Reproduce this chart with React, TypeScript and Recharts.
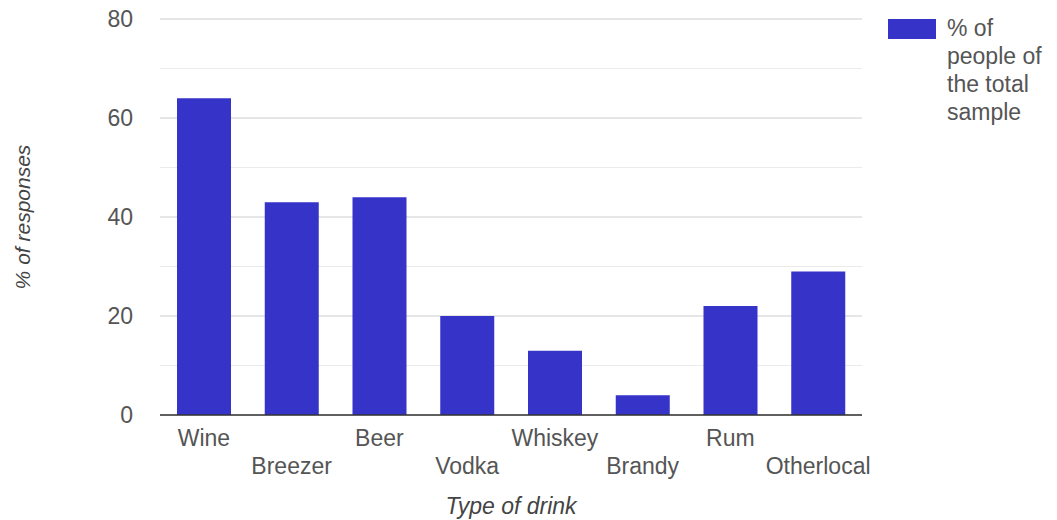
import { BarChart, Bar, XAxis, YAxis, CartesianGrid } from "recharts";

const drinks = ["Wine", "Breezer", "Beer", "Vodka", "Whiskey", "Brandy", "Rum", "Otherlocal"];
const shares = [64, 43, 44, 20, 13, 4, 22, 29];
const majorTicks = [0, 20, 40, 60, 80];
const minorTicks = [10, 30, 50, 70];
const seriesName = "% of people of the total sample";

const data = drinks.map((drink, i) => ({ drink, share: shares[i] }));

const FONT = "'Liberation Sans', Arial, sans-serif";
const BAR = "#3633c9";

const DrinkTick = (props: any) => {
  const { x, y, payload, index } = props;
  const dy = index % 2 === 0 ? 23 : 51;
  return (
    <text x={x} y={y + dy} textAnchor="middle" fill="#555" fontSize={23} fontFamily={FONT}>
      {payload.value}
    </text>
  );
};

const YTitle = (props: any) => {
  const { viewBox } = props;
  const cy = viewBox.y + viewBox.height / 2;
  return (
    <text
      x={30}
      y={cy}
      transform={`rotate(-90, 30, ${cy})`}
      textAnchor="middle"
      fill="#444"
      fontSize={21}
      fontStyle="italic"
      fontFamily={FONT}
    >
      % of responses
    </text>
  );
};

const XTitle = (props: any) => {
  const { viewBox } = props;
  return (
    <text
      x={viewBox.x + viewBox.width / 2}
      y={514}
      textAnchor="middle"
      fill="#444"
      fontSize={23}
      fontStyle="italic"
      fontFamily={FONT}
    >
      Type of drink
    </text>
  );
};

// legend drawn as plain html beside the plot
const LegendBox = () => (
  <div
    style={{
      position: "absolute",
      left: 888,
      top: 19,
      display: "flex",
      alignItems: "flex-start",
      fontFamily: FONT,
      fontSize: 23,
      color: "#555",
    }}
  >
    <div style={{ width: 48, height: 20, background: BAR, marginRight: 11, flexShrink: 0 }} />
    <div style={{ width: 110, lineHeight: "28px", marginTop: -5 }}>{seriesName}</div>
  </div>
);

export default function App() {
  return (
    <div style={{ position: "absolute", left: 0, top: 0, width: 1057, height: 520, background: "#fff" }}>
      <BarChart
        width={1057}
        height={520}
        data={data}
        margin={{ top: 19, right: 195, bottom: 0, left: 0 }}
        barCategoryGap={17}
      >
        <CartesianGrid vertical={false} stroke="#ebebeb" horizontalValues={minorTicks} />
        <CartesianGrid vertical={false} stroke="#cccccc" horizontalValues={majorTicks} />
        <XAxis
          dataKey="drink"
          height={105}
          interval={0}
          tickLine={false}
          axisLine={{ stroke: "#333", strokeWidth: 1.5 }}
          tick={<DrinkTick />}
          label={<XTitle />}
        />
        <YAxis
          width={160}
          domain={[0, 80]}
          ticks={majorTicks}
          tickLine={false}
          axisLine={false}
          tickSize={0}
          tickMargin={27}
          tick={{ fill: "#555", fontSize: 23, fontFamily: FONT }}
          label={<YTitle />}
        />
        <Bar dataKey="share" name={seriesName} fill={BAR} isAnimationActive={false} />
      </BarChart>
      <LegendBox />
    </div>
  );
}
